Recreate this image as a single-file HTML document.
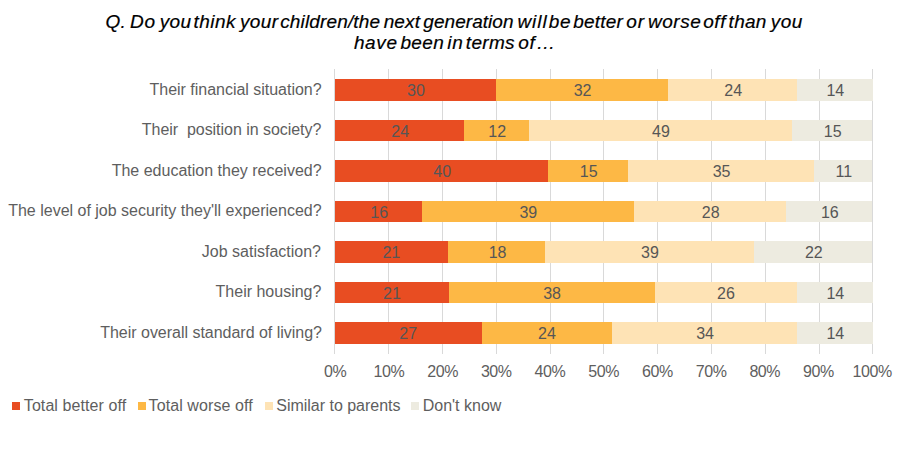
<!DOCTYPE html>
<html><head><meta charset="utf-8"><title>chart</title>
<style>
html,body{margin:0;padding:0;background:#fff;}
body{width:908px;height:473px;position:relative;overflow:hidden;font-family:"Liberation Sans",sans-serif;}
.w{position:absolute;-webkit-text-stroke:0.2px #000;font-style:italic;font-size:19px;line-height:21px;color:#000;white-space:nowrap;}
.g{position:absolute;top:69px;height:285px;width:1px;background:#d9d9d9;}
.b{position:absolute;height:22px;}
.v{position:absolute;font-size:16px;line-height:22px;height:22px;color:#565656;text-align:center;white-space:nowrap;}
.c{position:absolute;right:586.4px;font-size:16px;line-height:22px;height:22px;color:#5e5e5e;white-space:nowrap;text-align:right;}
.a{position:absolute;top:361px;font-size:16px;line-height:22px;width:60px;margin-left:-30px;letter-spacing:-0.4px;text-align:center;color:#5e5e5e;}
.l{position:absolute;top:395px;font-size:16px;line-height:22px;color:#5e5e5e;white-space:nowrap;}
.k{position:absolute;top:402px;width:8px;height:8px;}
</style></head><body>

<span class="w" style="left:105.48px;top:11px;letter-spacing:0.35px">Q.</span>
<span class="w" style="left:130.12px;top:11px;letter-spacing:0.63px">Do</span>
<span class="w" style="left:159.74px;top:11px;letter-spacing:0.30px">you</span>
<span class="w" style="left:193.51px;top:11px;letter-spacing:0.49px">think</span>
<span class="w" style="left:240.04px;top:11px;letter-spacing:0.33px">your</span>
<span class="w" style="left:280.24px;top:11px;letter-spacing:0.14px">children/the</span>
<span class="w" style="left:383.63px;top:11px;letter-spacing:0.13px">next</span>
<span class="w" style="left:423.29px;top:11px;letter-spacing:0.05px">generation</span>
<span class="w" style="left:517.39px;top:11px;letter-spacing:1.00px">will</span>
<span class="w" style="left:548.86px;top:11px;letter-spacing:0.62px">be</span>
<span class="w" style="left:573.36px;top:11px;letter-spacing:0.18px">better</span>
<span class="w" style="left:626.14px;top:11px;letter-spacing:1.00px">or</span>
<span class="w" style="left:647.97px;top:11px;letter-spacing:0.55px">worse</span>
<span class="w" style="left:703.22px;top:11px;letter-spacing:0.57px">off</span>
<span class="w" style="left:728.61px;top:11px;letter-spacing:0.27px">than</span>
<span class="w" style="left:770.74px;top:11px;letter-spacing:0.50px">you</span>
<span class="w" style="left:353.93px;top:32px;letter-spacing:0.63px">have</span>
<span class="w" style="left:400.46px;top:32px;letter-spacing:0.35px">been</span>
<span class="w" style="left:447.33px;top:32px;letter-spacing:0.68px">in</span>
<span class="w" style="left:465.81px;top:32px;letter-spacing:0.32px">terms</span>
<span class="w" style="left:518.22px;top:32px;letter-spacing:0.66px">of</span>
<span class="w" style="left:536.20px;top:32px;letter-spacing:0.00px">…</span>
<div class="g" style="left:334px"></div>
<div class="g" style="left:388px"></div>
<div class="g" style="left:442px"></div>
<div class="g" style="left:496px"></div>
<div class="g" style="left:550px"></div>
<div class="g" style="left:603px"></div>
<div class="g" style="left:657px"></div>
<div class="g" style="left:711px"></div>
<div class="g" style="left:765px"></div>
<div class="g" style="left:819px"></div>
<div class="g" style="left:872px"></div>
<div class="c" id="c0" style="top:79px;right:586.4px;letter-spacing:-0.02px">Their financial situation?</div>
<div class="b" style="left:335.0px;top:79px;width:160.8px;height:22px;background:#E84D22"></div>
<div class="b" style="left:495.8px;top:79px;width:172.3px;height:22px;background:#FDB845"></div>
<div class="b" style="left:668.1px;top:79px;width:128.9px;height:22px;background:#FEE3B5"></div>
<div class="b" style="left:797.0px;top:79px;width:75.5px;height:22px;background:#EDEBE0"></div>
<div class="v" style="left:335.6px;top:80px;width:160.8px">30</div>
<div class="v" style="left:496.4px;top:80px;width:172.3px">32</div>
<div class="v" style="left:668.7px;top:80px;width:128.9px">24</div>
<div class="v" style="left:797.6px;top:80px;width:75.5px">14</div>
<div class="c" id="c1" style="top:119px;right:586.7px;letter-spacing:-0.04px">Their&nbsp; position in society?</div>
<div class="b" style="left:335.0px;top:120px;width:129.2px;height:21px;background:#E84D22"></div>
<div class="b" style="left:464.2px;top:120px;width:64.8px;height:21px;background:#FDB845"></div>
<div class="b" style="left:529.0px;top:120px;width:262.8px;height:21px;background:#FEE3B5"></div>
<div class="b" style="left:791.8px;top:120px;width:80.7px;height:21px;background:#EDEBE0"></div>
<div class="v" style="left:335.6px;top:121px;width:129.2px">24</div>
<div class="v" style="left:464.8px;top:121px;width:64.8px">12</div>
<div class="v" style="left:529.6px;top:121px;width:262.8px">49</div>
<div class="v" style="left:792.4px;top:121px;width:80.7px">15</div>
<div class="c" id="c2" style="top:160px;right:586.4px;letter-spacing:0.00px">The education they received?</div>
<div class="b" style="left:335.0px;top:160px;width:213.1px;height:22px;background:#E84D22"></div>
<div class="b" style="left:548.1px;top:160px;width:80.0px;height:22px;background:#FDB845"></div>
<div class="b" style="left:628.1px;top:160px;width:185.8px;height:22px;background:#FEE3B5"></div>
<div class="b" style="left:813.9px;top:160px;width:58.6px;height:22px;background:#EDEBE0"></div>
<div class="v" style="left:335.6px;top:161px;width:213.1px">40</div>
<div class="v" style="left:548.7px;top:161px;width:80.0px">15</div>
<div class="v" style="left:628.7px;top:161px;width:185.8px">35</div>
<div class="v" style="left:814.5px;top:161px;width:58.6px">11</div>
<div class="c" id="c3" style="top:200px;right:586.4px;letter-spacing:0.00px">The level of job security they'll experienced?</div>
<div class="b" style="left:335.0px;top:201px;width:87.2px;height:21px;background:#E84D22"></div>
<div class="b" style="left:422.2px;top:201px;width:212.0px;height:21px;background:#FDB845"></div>
<div class="b" style="left:634.2px;top:201px;width:151.7px;height:21px;background:#FEE3B5"></div>
<div class="b" style="left:785.9px;top:201px;width:86.6px;height:21px;background:#EDEBE0"></div>
<div class="v" style="left:335.6px;top:202px;width:87.2px">16</div>
<div class="v" style="left:422.3px;top:202px;width:212.0px">39</div>
<div class="v" style="left:634.8px;top:202px;width:151.7px">28</div>
<div class="v" style="left:786.5px;top:202px;width:86.6px">16</div>
<div class="c" id="c4" style="top:241px;right:587.0px;letter-spacing:0.00px">Job satisfaction?</div>
<div class="b" style="left:335.0px;top:241px;width:113.1px;height:22px;background:#E84D22"></div>
<div class="b" style="left:448.1px;top:241px;width:96.7px;height:22px;background:#FDB845"></div>
<div class="b" style="left:544.8px;top:241px;width:209.1px;height:22px;background:#FEE3B5"></div>
<div class="b" style="left:753.9px;top:241px;width:118.6px;height:22px;background:#EDEBE0"></div>
<div class="v" style="left:334.8px;top:242px;width:113.1px">21</div>
<div class="v" style="left:449.2px;top:242px;width:96.7px">18</div>
<div class="v" style="left:545.4px;top:242px;width:209.1px">39</div>
<div class="v" style="left:754.5px;top:242px;width:118.6px">22</div>
<div class="c" id="c5" style="top:281px;right:586.6px;letter-spacing:0.00px">Their housing?</div>
<div class="b" style="left:335.0px;top:282px;width:114.2px;height:21px;background:#E84D22"></div>
<div class="b" style="left:449.2px;top:282px;width:206.1px;height:21px;background:#FDB845"></div>
<div class="b" style="left:655.3px;top:282px;width:141.7px;height:21px;background:#FEE3B5"></div>
<div class="b" style="left:797.0px;top:282px;width:75.5px;height:21px;background:#EDEBE0"></div>
<div class="v" style="left:334.8px;top:283px;width:114.2px">21</div>
<div class="v" style="left:449.0px;top:283px;width:206.1px">38</div>
<div class="v" style="left:655.1px;top:283px;width:141.7px">26</div>
<div class="v" style="left:797.6px;top:283px;width:75.5px">14</div>
<div class="c" id="c6" style="top:322px;right:586.1px;letter-spacing:-0.02px">Their overall standard of living?</div>
<div class="b" style="left:335.0px;top:322px;width:146.9px;height:22px;background:#E84D22"></div>
<div class="b" style="left:481.9px;top:322px;width:130.1px;height:22px;background:#FDB845"></div>
<div class="b" style="left:612.0px;top:322px;width:185.0px;height:22px;background:#FEE3B5"></div>
<div class="b" style="left:797.0px;top:322px;width:75.5px;height:22px;background:#EDEBE0"></div>
<div class="v" style="left:334.8px;top:323px;width:146.9px">27</div>
<div class="v" style="left:481.9px;top:323px;width:130.1px">24</div>
<div class="v" style="left:612.6px;top:323px;width:185.0px">34</div>
<div class="v" style="left:797.6px;top:323px;width:75.5px">14</div>
<div class="a" style="left:335.2px">0%</div>
<div class="a" style="left:388.9px">10%</div>
<div class="a" style="left:442.6px">20%</div>
<div class="a" style="left:496.3px">30%</div>
<div class="a" style="left:550.0px">40%</div>
<div class="a" style="left:603.7px">50%</div>
<div class="a" style="left:657.4px">60%</div>
<div class="a" style="left:711.1px">70%</div>
<div class="a" style="left:764.8px">80%</div>
<div class="a" style="left:818.5px">90%</div>
<div class="a" style="left:872.2px">100%</div>
<div class="k" style="left:12px;background:#E84D22"></div>
<div class="l" style="left:23.8px;letter-spacing:0.080px">Total better off</div>
<div class="k" style="left:138px;background:#FDB845"></div>
<div class="l" style="left:148.6px;letter-spacing:0.085px">Total worse off</div>
<div class="k" style="left:265px;background:#FEE3B5"></div>
<div class="l" style="left:276.3px;letter-spacing:-0.020px">Similar to parents</div>
<div class="k" style="left:411px;background:#EDEBE0"></div>
<div class="l" style="left:422.7px;letter-spacing:0.000px">Don't know</div>
</body></html>
